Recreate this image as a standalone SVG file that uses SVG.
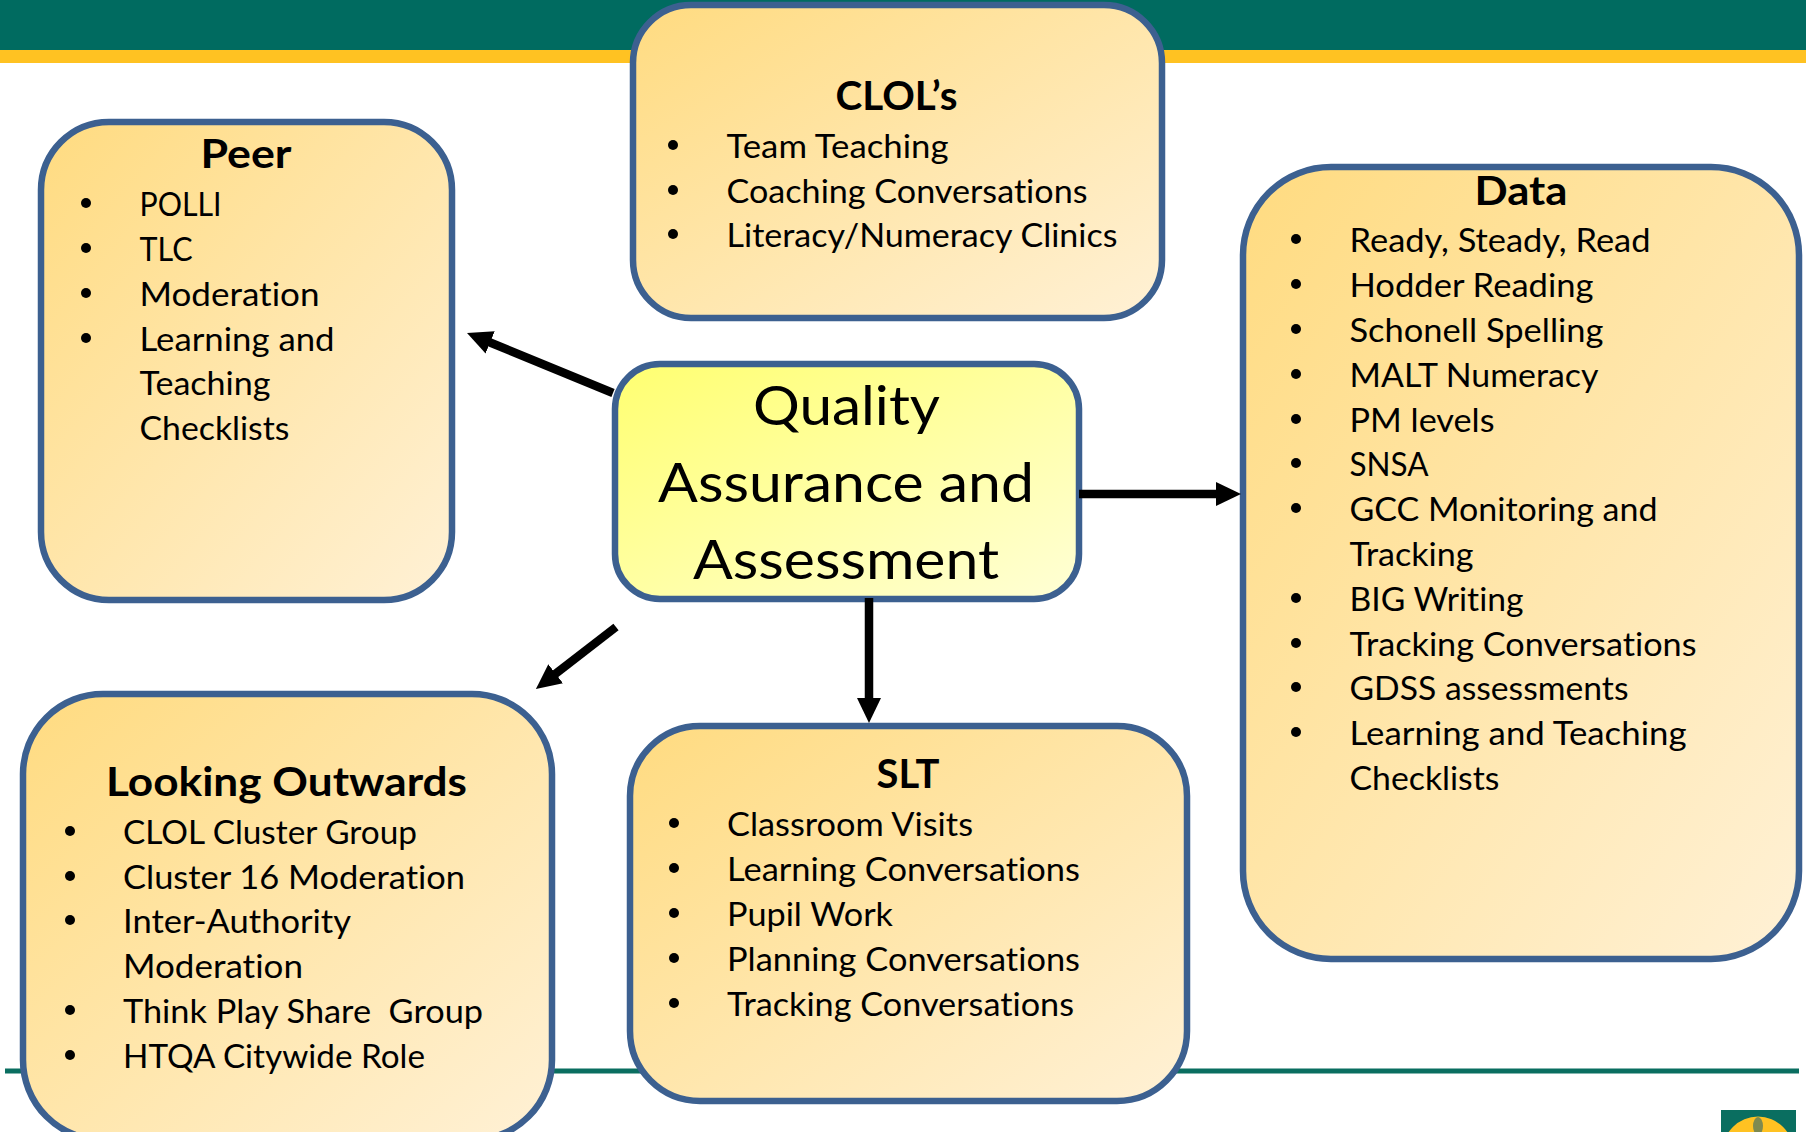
<svg xmlns="http://www.w3.org/2000/svg" width="1806" height="1132" viewBox="0 0 1806 1132">
<style>
text{font-family:"Lato","Carlito","Liberation Sans",sans-serif;fill:#000;white-space:pre;font-variant-ligatures:none}
.i{font-size:33px}
.t{font-size:41px;font-weight:700}
.c{font-size:54px}
.box{fill:url(#g);stroke:#3C6090;stroke-width:6.5}
.cbox{fill:url(#y);stroke:#3C6090;stroke-width:6.5}
.b{fill:#000}
.a{stroke:#000;stroke-width:8.5;fill:none;marker-end:url(#h)}
</style>
<defs>
<linearGradient id="g" x1="0" y1="0" x2="1" y2="1"><stop offset="0" stop-color="#FFDB80"/><stop offset="1" stop-color="#FFF1D6"/></linearGradient>
<linearGradient id="y" x1="0" y1="0" x2="1" y2="1"><stop offset="0" stop-color="#FFFF70"/><stop offset="1" stop-color="#FFFFD6"/></linearGradient>
<marker id="h" markerUnits="userSpaceOnUse" markerWidth="27" markerHeight="26" refX="2" refY="13" orient="auto" viewBox="0 0 27 26"><path d="M0 1L25 13L0 25z" fill="#000"/></marker>
</defs>
<rect width="1806" height="1132" fill="#fff"/>
<g id="background">
<rect width="1806" height="50" fill="#006B60"/>
<rect y="50" width="1806" height="13" fill="#FFC222"/>
<rect x="5" y="1068.5" width="1794" height="5" fill="#0A6E60"/>
<rect x="1721" y="1110" width="75" height="22" fill="#0A6E60"/>
<circle cx="1758" cy="1152" r="35.5" fill="#FFC222"/>
<ellipse cx="1758" cy="1126" rx="5" ry="9" fill="#7E8A50"/>
</g>
<g id="node-clol">
<rect class="box" x="633" y="5" width="529" height="313" rx="58"/>
<text class="t" x="835.5" y="110" textLength="122" lengthAdjust="spacingAndGlyphs">CLOL’s</text>
<circle class="b" cx="673" cy="145" r="5"/><text class="i" x="726.5" y="158" textLength="222" lengthAdjust="spacingAndGlyphs">Team Teaching</text>
<circle class="b" cx="673" cy="190" r="5"/><text class="i" x="726.5" y="203" textLength="361" lengthAdjust="spacingAndGlyphs">Coaching Conversations</text>
<circle class="b" cx="673" cy="234" r="5"/><text class="i" x="726.5" y="247" textLength="391" lengthAdjust="spacingAndGlyphs">Literacy/Numeracy Clinics</text>
</g>
<g id="node-peer">
<rect class="box" x="41" y="122" width="411" height="478" rx="68"/>
<text class="t" x="200.5" y="168" textLength="91" lengthAdjust="spacingAndGlyphs">Peer</text>
<circle class="b" cx="86" cy="203" r="5"/><text class="i" x="139.5" y="216" textLength="82" lengthAdjust="spacingAndGlyphs">POLLI</text>
<circle class="b" cx="86" cy="248" r="5"/><text class="i" x="139.5" y="261" textLength="53" lengthAdjust="spacingAndGlyphs">TLC</text>
<circle class="b" cx="86" cy="293" r="5"/><text class="i" x="139.5" y="306" textLength="180" lengthAdjust="spacingAndGlyphs">Moderation</text>
<circle class="b" cx="86" cy="338" r="5"/><text class="i" x="139.5" y="351" textLength="195" lengthAdjust="spacingAndGlyphs">Learning and</text>
<text class="i" x="139.5" y="395" textLength="131" lengthAdjust="spacingAndGlyphs">Teaching</text>
<text class="i" x="139.5" y="440" textLength="150" lengthAdjust="spacingAndGlyphs">Checklists</text>
</g>
<g id="node-data">
<rect class="box" x="1243" y="167" width="556" height="792" rx="88"/>
<text class="t" x="1474.5" y="205" textLength="93" lengthAdjust="spacingAndGlyphs">Data</text>
<circle class="b" cx="1296" cy="239" r="5"/><text class="i" x="1349.5" y="252" textLength="301" lengthAdjust="spacingAndGlyphs">Ready, Steady, Read</text>
<circle class="b" cx="1296" cy="284" r="5"/><text class="i" x="1349.5" y="297" textLength="244" lengthAdjust="spacingAndGlyphs">Hodder Reading</text>
<circle class="b" cx="1296" cy="329" r="5"/><text class="i" x="1349.5" y="342" textLength="254" lengthAdjust="spacingAndGlyphs">Schonell Spelling</text>
<circle class="b" cx="1296" cy="374" r="5"/><text class="i" x="1349.5" y="387" textLength="249" lengthAdjust="spacingAndGlyphs">MALT Numeracy</text>
<circle class="b" cx="1296" cy="419" r="5"/><text class="i" x="1349.5" y="432" textLength="145" lengthAdjust="spacingAndGlyphs">PM levels</text>
<circle class="b" cx="1296" cy="463" r="5"/><text class="i" x="1349.5" y="476" textLength="79" lengthAdjust="spacingAndGlyphs">SNSA</text>
<circle class="b" cx="1296" cy="508" r="5"/><text class="i" x="1349.5" y="521" textLength="308" lengthAdjust="spacingAndGlyphs">GCC Monitoring and</text>
<text class="i" x="1349.5" y="566" textLength="124" lengthAdjust="spacingAndGlyphs">Tracking</text>
<circle class="b" cx="1296" cy="598" r="5"/><text class="i" x="1349.5" y="611" textLength="174" lengthAdjust="spacingAndGlyphs">BIG Writing</text>
<circle class="b" cx="1296" cy="643" r="5"/><text class="i" x="1349.5" y="656" textLength="347" lengthAdjust="spacingAndGlyphs">Tracking Conversations</text>
<circle class="b" cx="1296" cy="687" r="5"/><text class="i" x="1349.5" y="700" textLength="279" lengthAdjust="spacingAndGlyphs">GDSS assessments</text>
<circle class="b" cx="1296" cy="732" r="5"/><text class="i" x="1349.5" y="745" textLength="337" lengthAdjust="spacingAndGlyphs">Learning and Teaching</text>
<text class="i" x="1349.5" y="790" textLength="150" lengthAdjust="spacingAndGlyphs">Checklists</text>
</g>
<g id="node-center">
<rect class="cbox" x="615" y="364" width="464" height="235" rx="45"/>
<text class="c" x="753" y="425" textLength="187" lengthAdjust="spacingAndGlyphs">Quality</text>
<text class="c" x="658" y="502" textLength="376" lengthAdjust="spacingAndGlyphs">Assurance and</text>
<text class="c" x="693" y="579" textLength="306" lengthAdjust="spacingAndGlyphs">Assessment</text>
</g>
<g id="node-slt">
<rect class="box" x="630" y="726" width="557" height="375" rx="70"/>
<text class="t" x="876.5" y="788" textLength="63" lengthAdjust="spacingAndGlyphs">SLT</text>
<circle class="b" cx="674" cy="823" r="5"/><text class="i" x="727" y="836" textLength="246" lengthAdjust="spacingAndGlyphs">Classroom Visits</text>
<circle class="b" cx="674" cy="868" r="5"/><text class="i" x="727" y="881" textLength="353" lengthAdjust="spacingAndGlyphs">Learning Conversations</text>
<circle class="b" cx="674" cy="913" r="5"/><text class="i" x="727" y="926" textLength="166" lengthAdjust="spacingAndGlyphs">Pupil Work</text>
<circle class="b" cx="674" cy="958" r="5"/><text class="i" x="727" y="971" textLength="353" lengthAdjust="spacingAndGlyphs">Planning Conversations</text>
<circle class="b" cx="674" cy="1003" r="5"/><text class="i" x="727" y="1016" textLength="347" lengthAdjust="spacingAndGlyphs">Tracking Conversations</text>
</g>
<g id="node-looking-outwards">
<rect class="box" x="23" y="694" width="529" height="446" rx="80"/>
<text class="t" x="106" y="796" textLength="361" lengthAdjust="spacingAndGlyphs">Looking Outwards</text>
<circle class="b" cx="70" cy="831" r="5"/><text class="i" x="123" y="844" textLength="294" lengthAdjust="spacingAndGlyphs">CLOL Cluster Group</text>
<circle class="b" cx="70" cy="876" r="5"/><text class="i" x="123" y="889" textLength="342" lengthAdjust="spacingAndGlyphs">Cluster 16 Moderation</text>
<circle class="b" cx="70" cy="920" r="5"/><text class="i" x="123" y="933" textLength="228" lengthAdjust="spacingAndGlyphs">Inter-Authority</text>
<text class="i" x="123" y="978" textLength="180" lengthAdjust="spacingAndGlyphs">Moderation</text>
<circle class="b" cx="70" cy="1010" r="5"/><text class="i" x="123" y="1023" textLength="360" lengthAdjust="spacingAndGlyphs">Think Play Share  Group</text>
<circle class="b" cx="70" cy="1055" r="5"/><text class="i" x="123" y="1068" textLength="302" lengthAdjust="spacingAndGlyphs">HTQA Citywide Role</text>
</g>
<g id="connectors">
<line class="a" x1="613" y1="393" x2="488.3" y2="341.7"/>
<line class="a" x1="1079" y1="494" x2="1218" y2="494"/>
<line class="a" x1="869" y1="598" x2="869" y2="700"/>
<line class="a" x1="616" y1="627" x2="554.1" y2="674.9"/>
</g>
</svg>
